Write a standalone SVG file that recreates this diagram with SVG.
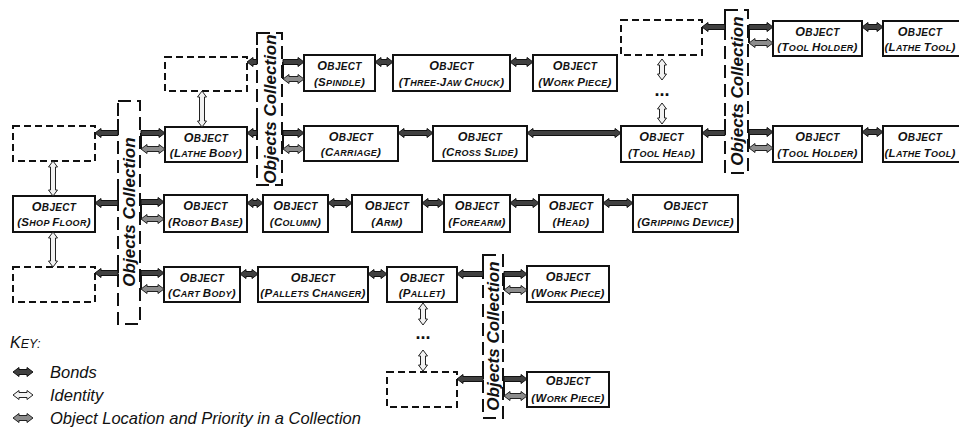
<svg xmlns="http://www.w3.org/2000/svg" width="959" height="428" viewBox="0 0 959 428">
<style>
text{font-family:"Liberation Sans",Arial,sans-serif;}
.box{fill:#fff;stroke:#111;stroke-width:2;}
.dbox{fill:#fff;stroke:#111;stroke-width:2;stroke-dasharray:7,4;}
.coll{fill:none;stroke:#111;stroke-width:2;stroke-dasharray:13,6;}
.stub{stroke:#111;stroke-width:2;fill:none;}
.t1{font-size:10px;font-weight:bold;font-style:italic;text-anchor:middle;letter-spacing:0.3px;fill:#111;}
.t2{font-size:9px;font-weight:bold;font-style:italic;text-anchor:middle;letter-spacing:0.3px;fill:#111;}
.t1 .L{font-size:12.5px;}
.t2 .L{font-size:11.5px;}
.ct{font-size:17px;font-weight:bold;font-style:italic;text-anchor:middle;fill:#111;}
.bond{fill:#404040;stroke:#111;stroke-width:1;}
.iden{fill:#f2f2f2;stroke:#222;stroke-width:1;}
.loc{fill:#8c8c8c;stroke:#222;stroke-width:1;}
.key{font-size:16.5px;font-style:italic;fill:#111;}
.dots{font-size:18px;font-weight:bold;text-anchor:middle;fill:#111;}
</style>

<!-- Collections -->
<g id="collection1">
<rect class="coll" x="118" y="101" width="22" height="223"/>
<text class="ct" transform="translate(129,212) rotate(-90)" dy="6">Objects Collection</text>
</g>
<g id="collection2">
<rect class="coll" x="257" y="33" width="25" height="152"/>
<text class="ct" transform="translate(269.5,109) rotate(-90)" dy="6">Objects Collection</text>
</g>
<g id="collection3">
<rect class="coll" x="725" y="10" width="23" height="163"/>
<text class="ct" transform="translate(736.5,91) rotate(-90)" dy="6">Objects Collection</text>
</g>
<g id="collection4">
<rect class="coll" x="483" y="255" width="20" height="163"/>
<text class="ct" transform="translate(493,336) rotate(-90)" dy="6">Objects Collection</text>
</g>

<!-- Nodes -->
<g id="dash-left-top"><rect class="dbox" x="13" y="126" width="82" height="35"/></g>
<g id="shop-floor"><rect class="box" x="13" y="196" width="82" height="36"/>
<text class="t1" x="54" y="211"><tspan class="L">O</tspan>BJECT</text>
<text class="t2" x="54" y="226"><tspan class="L">(S</tspan>HOP <tspan class="L">F</tspan>LOOR<tspan class="L">)</tspan></text></g>
<g id="dash-left-bottom"><rect class="dbox" x="13" y="267" width="82" height="35"/></g>

<g id="dash-above-lathe"><rect class="dbox" x="165" y="57" width="82" height="34"/></g>
<g id="lathe-body"><rect class="box" x="165" y="127" width="82" height="35"/>
<text class="t1" x="206" y="142"><tspan class="L">O</tspan>BJECT</text>
<text class="t2" x="206" y="157"><tspan class="L">(L</tspan>ATHE <tspan class="L">B</tspan>ODY<tspan class="L">)</tspan></text></g>
<g id="robot-base"><rect class="box" x="164" y="195" width="83" height="37"/>
<text class="t1" x="205.5" y="210"><tspan class="L">O</tspan>BJECT</text>
<text class="t2" x="205.5" y="226"><tspan class="L">(R</tspan>OBOT <tspan class="L">B</tspan>ASE<tspan class="L">)</tspan></text></g>
<g id="cart-body"><rect class="box" x="164" y="267" width="76" height="35"/>
<text class="t1" x="202" y="282"><tspan class="L">O</tspan>BJECT</text>
<text class="t2" x="202" y="297"><tspan class="L">(C</tspan>ART <tspan class="L">B</tspan>ODY<tspan class="L">)</tspan></text></g>

<g id="spindle"><rect class="box" x="304" y="55" width="71" height="36"/>
<text class="t1" x="339.5" y="70"><tspan class="L">O</tspan>BJECT</text>
<text class="t2" x="339.5" y="86"><tspan class="L">(S</tspan>PINDLE<tspan class="L">)</tspan></text></g>
<g id="three-jaw-chuck"><rect class="box" x="393" y="55" width="117" height="36"/>
<text class="t1" x="451.5" y="70"><tspan class="L">O</tspan>BJECT</text>
<text class="t2" x="451.5" y="86"><tspan class="L">(T</tspan>HREE-<tspan class="L">J</tspan>AW <tspan class="L">C</tspan>HUCK<tspan class="L">)</tspan></text></g>
<g id="work-piece-1"><rect class="box" x="533" y="55" width="84" height="36"/>
<text class="t1" x="575" y="70"><tspan class="L">O</tspan>BJECT</text>
<text class="t2" x="575" y="86"><tspan class="L">(W</tspan>ORK <tspan class="L">P</tspan>IECE<tspan class="L">)</tspan></text></g>

<g id="carriage"><rect class="box" x="304" y="126" width="94" height="35"/>
<text class="t1" x="351" y="141"><tspan class="L">O</tspan>BJECT</text>
<text class="t2" x="351" y="156"><tspan class="L">(C</tspan>ARRIAGE<tspan class="L">)</tspan></text></g>
<g id="cross-slide"><rect class="box" x="433" y="126" width="94" height="35"/>
<text class="t1" x="480" y="141"><tspan class="L">O</tspan>BJECT</text>
<text class="t2" x="480" y="156"><tspan class="L">(C</tspan>ROSS <tspan class="L">S</tspan>LIDE<tspan class="L">)</tspan></text></g>
<g id="tool-head"><rect class="box" x="621" y="126" width="81" height="36"/>
<text class="t1" x="661.5" y="141"><tspan class="L">O</tspan>BJECT</text>
<text class="t2" x="661.5" y="157"><tspan class="L">(T</tspan>OOL <tspan class="L">H</tspan>EAD<tspan class="L">)</tspan></text></g>
<g id="dash-top-right"><rect class="dbox" x="621" y="20" width="81" height="35"/></g>

<g id="tool-holder-1"><rect class="box" x="773" y="21" width="89" height="35"/>
<text class="t1" x="817.5" y="36"><tspan class="L">O</tspan>BJECT</text>
<text class="t2" x="817.5" y="51"><tspan class="L">(T</tspan>OOL <tspan class="L">H</tspan>OLDER<tspan class="L">)</tspan></text></g>
<g id="lathe-tool-1"><rect class="box" x="883" y="21" width="82" height="35"/>
<text class="t1" x="920" y="36"><tspan class="L">O</tspan>BJECT</text>
<text class="t2" x="920" y="51"><tspan class="L">(L</tspan>ATHE <tspan class="L">T</tspan>OOL<tspan class="L">)</tspan></text></g>
<g id="tool-holder-2"><rect class="box" x="773" y="126" width="89" height="36"/>
<text class="t1" x="817.5" y="141"><tspan class="L">O</tspan>BJECT</text>
<text class="t2" x="817.5" y="157"><tspan class="L">(T</tspan>OOL <tspan class="L">H</tspan>OLDER<tspan class="L">)</tspan></text></g>
<g id="lathe-tool-2"><rect class="box" x="883" y="126" width="82" height="36"/>
<text class="t1" x="920" y="141"><tspan class="L">O</tspan>BJECT</text>
<text class="t2" x="920" y="157"><tspan class="L">(L</tspan>ATHE <tspan class="L">T</tspan>OOL<tspan class="L">)</tspan></text></g>

<g id="column"><rect class="box" x="263" y="195" width="65" height="37"/>
<text class="t1" x="295.5" y="210"><tspan class="L">O</tspan>BJECT</text>
<text class="t2" x="295.5" y="226"><tspan class="L">(C</tspan>OLUMN<tspan class="L">)</tspan></text></g>
<g id="arm"><rect class="box" x="352" y="195" width="70" height="37"/>
<text class="t1" x="387" y="210"><tspan class="L">O</tspan>BJECT</text>
<text class="t2" x="387" y="226"><tspan class="L">(A</tspan>RM<tspan class="L">)</tspan></text></g>
<g id="forearm"><rect class="box" x="444" y="195" width="66" height="37"/>
<text class="t1" x="477" y="210"><tspan class="L">O</tspan>BJECT</text>
<text class="t2" x="477" y="226"><tspan class="L">(F</tspan>OREARM<tspan class="L">)</tspan></text></g>
<g id="head"><rect class="box" x="539" y="195" width="64" height="37"/>
<text class="t1" x="571" y="210"><tspan class="L">O</tspan>BJECT</text>
<text class="t2" x="571" y="226"><tspan class="L">(H</tspan>EAD<tspan class="L">)</tspan></text></g>
<g id="gripping-device"><rect class="box" x="633" y="195" width="105" height="37"/>
<text class="t1" x="685.5" y="210"><tspan class="L">O</tspan>BJECT</text>
<text class="t2" x="685.5" y="226"><tspan class="L">(G</tspan>RIPPING <tspan class="L">D</tspan>EVICE<tspan class="L">)</tspan></text></g>

<g id="pallets-changer"><rect class="box" x="258" y="267" width="110" height="35"/>
<text class="t1" x="313" y="282"><tspan class="L">O</tspan>BJECT</text>
<text class="t2" x="313" y="297"><tspan class="L">(P</tspan>ALLETS <tspan class="L">C</tspan>HANGER<tspan class="L">)</tspan></text></g>
<g id="pallet"><rect class="box" x="387" y="267" width="70" height="35"/>
<text class="t1" x="422" y="282"><tspan class="L">O</tspan>BJECT</text>
<text class="t2" x="422" y="297"><tspan class="L">(P</tspan>ALLET<tspan class="L">)</tspan></text></g>
<g id="work-piece-2"><rect class="box" x="527" y="266" width="82" height="36"/>
<text class="t1" x="568" y="281"><tspan class="L">O</tspan>BJECT</text>
<text class="t2" x="568" y="297"><tspan class="L">(W</tspan>ORK <tspan class="L">P</tspan>IECE<tspan class="L">)</tspan></text></g>
<g id="dash-bottom"><rect class="dbox" x="387" y="372" width="70" height="35"/></g>
<g id="work-piece-3"><rect class="box" x="527" y="372" width="82" height="35"/>
<text class="t1" x="568" y="385"><tspan class="L">O</tspan>BJECT</text>
<text class="t2" x="568" y="402"><tspan class="L">(W</tspan>ORK <tspan class="L">P</tspan>IECE<tspan class="L">)</tspan></text></g>

<!-- Connectors -->
<g id="connectors">
<path class="stub" d="M118,119V133 M118,189V203 M118,259V273 M141,133V149 M141,202V219 M141,273V289"/>
<path class="stub" d="M257,48V62 M257,119V133 M283,62V79 M283,133V149"/>
<path class="stub" d="M725,13V27 M725,119V133 M749,27V43 M749,132V148"/>
<path class="stub" d="M483,260V274 M483,365V379 M504,274V290 M504,379V396"/>

<path class="bond" d="M95,133l6,-4.5v2h17v5h-17v2z"/>
<path class="bond" d="M95,203l6,-4.5v2h17v5h-17v2z"/>
<path class="bond" d="M95,273l6,-4.5v2h17v5h-17v2z"/>
<path class="bond" d="M141,130.5h18v-2l6,4.5l-6,4.5v-2h-18z"/>
<path class="loc" d="M141,149l6,-4.5v2h12v-2l6,4.5l-6,4.5v-2h-12v2z"/>
<path class="bond" d="M141,199.5h17v-2l6,4.5l-6,4.5v-2h-17z"/>
<path class="loc" d="M141,219l6,-4.5v2h11v-2l6,4.5l-6,4.5v-2h-11v2z"/>
<path class="bond" d="M141,270.5h17v-2l6,4.5l-6,4.5v-2h-17z"/>
<path class="loc" d="M141,289l6,-4.5v2h11v-2l6,4.5l-6,4.5v-2h-11v2z"/>

<path class="bond" d="M247,62l6,-4.5v2h4v5h-4v2z"/>
<path class="bond" d="M247,133l6,-4.5v2h4v5h-4v2z"/>
<path class="bond" d="M283,59.5h15v-2l6,4.5l-6,4.5v-2h-15z"/>
<path class="loc" d="M283,79l6,-4.5v2h9v-2l6,4.5l-6,4.5v-2h-9v2z"/>
<path class="bond" d="M283,130.5h15v-2l6,4.5l-6,4.5v-2h-15z"/>
<path class="loc" d="M283,149l6,-4.5v2h9v-2l6,4.5l-6,4.5v-2h-9v2z"/>

<path class="bond" d="M702,27l6,-4.5v2h17v5h-17v2z"/>
<path class="bond" d="M702,133l6,-4.5v2h17v5h-17v2z"/>
<path class="bond" d="M749,24.5h18v-2l6,4.5l-6,4.5v-2h-18z"/>
<path class="loc" d="M749,43l6,-4.5v2h12v-2l6,4.5l-6,4.5v-2h-12v2z"/>
<path class="bond" d="M749,129.5h18v-2l6,4.5l-6,4.5v-2h-18z"/>
<path class="loc" d="M749,148l6,-4.5v2h12v-2l6,4.5l-6,4.5v-2h-12v2z"/>

<path class="bond" d="M457,274l6,-4.5v2h20v5h-20v2z"/>
<path class="bond" d="M457,379l6,-4.5v2h20v5h-20v2z"/>
<path class="bond" d="M504,271.5h17v-2l6,4.5l-6,4.5v-2h-17z"/>
<path class="loc" d="M504,290l6,-4.5v2h11v-2l6,4.5l-6,4.5v-2h-11v2z"/>
<path class="bond" d="M504,376.5h17v-2l6,4.5l-6,4.5v-2h-17z"/>
<path class="loc" d="M504,396l6,-4.5v2h11v-2l6,4.5l-6,4.5v-2h-11v2z"/>

<path class="bond" d="M375,62l6,-4.5v2h6v-2l6,4.5l-6,4.5v-2h-6v2z"/>
<path class="bond" d="M510,62l6,-4.5v2h11v-2l6,4.5l-6,4.5v-2h-11v2z"/>
<path class="bond" d="M398,133l6,-4.5v2h23v-2l6,4.5l-6,4.5v-2h-23v2z"/>
<path class="bond" d="M527,133l6,-4.5v2h82v-2l6,4.5l-6,4.5v-2h-82v2z"/>
<path class="bond" d="M247,203l6,-4.5v2h4v-2l6,4.5l-6,4.5v-2h-4v2z"/>
<path class="bond" d="M328,203l6,-4.5v2h12v-2l6,4.5l-6,4.5v-2h-12v2z"/>
<path class="bond" d="M422,203l6,-4.5v2h10v-2l6,4.5l-6,4.5v-2h-10v2z"/>
<path class="bond" d="M510,203l6,-4.5v2h17v-2l6,4.5l-6,4.5v-2h-17v2z"/>
<path class="bond" d="M603,203l6,-4.5v2h18v-2l6,4.5l-6,4.5v-2h-18v2z"/>
<path class="bond" d="M240,274l6,-4.5v2h6v-2l6,4.5l-6,4.5v-2h-6v2z"/>
<path class="bond" d="M368,274l6,-4.5v2h7v-2l6,4.5l-6,4.5v-2h-7v2z"/>
<path class="bond" d="M862,27l6,-4.5v2h9v-2l6,4.5l-6,4.5v-2h-9v2z"/>
<path class="bond" d="M862,132l6,-4.5v2h9v-2l6,4.5l-6,4.5v-2h-9v2z"/>

<path class="iden" d="M53,161l-4.5,6h2v23h-2l4.5,6l4.5,-6h-2v-23h2z"/>
<path class="iden" d="M53,232l-4.5,6h2v23h-2l4.5,6l4.5,-6h-2v-23h2z"/>
<path class="iden" d="M202,91l-4.5,6h2v24h-2l4.5,6l4.5,-6h-2v-24h2z"/>
<path class="iden" d="M662,59l-4.5,6h2v9h-2l4.5,6l4.5,-6h-2v-9h2z"/>
<path class="iden" d="M662,103l-4.5,6h2v9h-2l4.5,6l4.5,-6h-2v-9h2z"/>
<path class="iden" d="M423,303l-4.5,6h2v10h-2l4.5,6l4.5,-6h-2v-10h2z"/>
<path class="iden" d="M423,350l-4.5,6h2v9h-2l4.5,6l4.5,-6h-2v-9h2z"/>
<text class="dots" x="662" y="96">...</text>
<text class="dots" x="423" y="339">...</text>
</g>

<!-- Key -->
<g id="key">
<text class="key" x="10" y="348"><tspan font-size="16px">K</tspan><tspan font-size="12.5px">EY:</tspan></text>
<path class="bond" d="M13,372l6,-4.5v2h8v-2l6,4.5l-6,4.5v-2h-8v2z"/>
<path class="iden" d="M13,395l6,-4.5v2h8v-2l6,4.5l-6,4.5v-2h-8v2z"/>
<path class="loc" d="M13,418l6,-4.5v2h8v-2l6,4.5l-6,4.5v-2h-8v2z"/>
<text class="key" x="50" y="378">Bonds</text>
<text class="key" x="50" y="401">Identity</text>
<text class="key" x="50" y="424">Object Location and Priority in a Collection</text>
</g>
</svg>
